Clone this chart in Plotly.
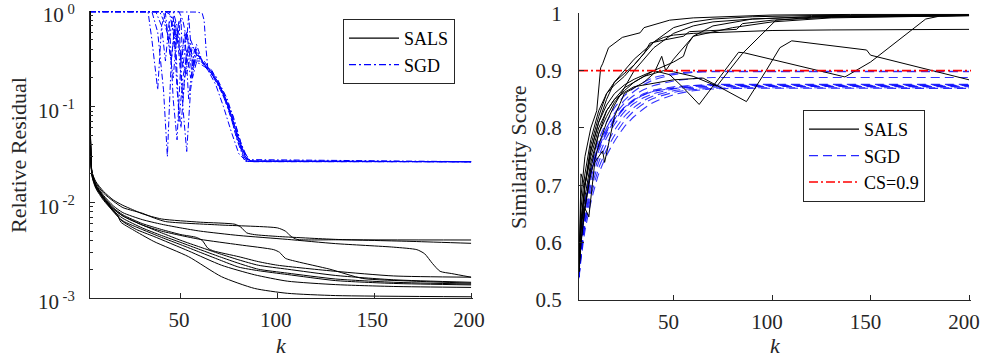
import plotly.graph_objects as go

# ---------------- Left panel: relative residual (log scale) ----------------
# SALS curves (k, value)
SALS_RES_K1 = [3, 4, 6, 10, 15, 20, 25, 30, 35, 42, 70, 100, 104, 107, 110, 130, 200]
SALS_RES_V1 = [1.0, 0.021, 0.016, 0.0125, 0.0103, 0.0088, 0.0082, 0.0077, 0.0070, 0.0063, 0.0058, 0.0054, 0.0050, 0.0044, 0.0041, 0.00406, 0.00404]
SALS_RES_K2 = [3, 4, 6, 10, 15, 20, 25, 30, 40, 60, 78, 81, 84, 88, 100, 130, 170, 200]
SALS_RES_V2 = [1.0, 0.021, 0.0165, 0.013, 0.0106, 0.0093, 0.0084, 0.0076, 0.0067, 0.0062, 0.0059, 0.0055, 0.0048, 0.0046, 0.0044, 0.0041, 0.0039, 0.00373]
SALS_RES_K3 = [3, 4, 6, 10, 15, 20, 30, 40, 50, 60, 80, 105, 130, 160, 172, 176, 180, 184, 190, 200]
SALS_RES_V3 = [1.0, 0.020, 0.0155, 0.0118, 0.0092, 0.0078, 0.0066, 0.0059, 0.0054, 0.0050, 0.0045, 0.0041, 0.0037, 0.0034, 0.0032, 0.0029, 0.0023, 0.0019, 0.0018, 0.00165]
SALS_RES_K4 = [3, 4, 6, 10, 15, 20, 30, 40, 50, 58, 61, 64, 67, 80, 90, 100, 130, 160, 200]
SALS_RES_V4 = [1.0, 0.020, 0.015, 0.0115, 0.0088, 0.0074, 0.0060, 0.0052, 0.0046, 0.0043, 0.0040, 0.0033, 0.0031, 0.0027, 0.0024, 0.0022, 0.0019, 0.0017, 0.00165]
SALS_RES_K5 = [3, 4, 6, 10, 15, 20, 30, 40, 50, 60, 80, 98, 101, 104, 110, 127, 144, 170, 200]
SALS_RES_V5 = [1.0, 0.020, 0.0145, 0.011, 0.0085, 0.0072, 0.0058, 0.0050, 0.0045, 0.0041, 0.0036, 0.0032, 0.0030, 0.0026, 0.0024, 0.0020, 0.0016, 0.0015, 0.00143]
SALS_RES_K6 = [3, 4, 6, 10, 15, 20, 30, 40, 50, 60, 70, 80, 90, 105, 130, 160, 200]
SALS_RES_V6 = [1.0, 0.020, 0.015, 0.0112, 0.0086, 0.0072, 0.0058, 0.0048, 0.0040, 0.0034, 0.0029, 0.0025, 0.0022, 0.0020, 0.00172, 0.00155, 0.00146]
SALS_RES_K7 = [3, 4, 6, 10, 15, 20, 30, 40, 50, 60, 70, 80, 90, 105, 130, 160, 200]
SALS_RES_V7 = [1.0, 0.019, 0.0145, 0.0108, 0.0082, 0.0068, 0.0054, 0.0045, 0.0038, 0.0032, 0.0027, 0.0023, 0.0020, 0.00182, 0.00158, 0.00146, 0.00140]
SALS_RES_K8 = [3, 4, 6, 10, 15, 20, 30, 40, 50, 60, 70, 80, 90, 105, 130, 160, 200]
SALS_RES_V8 = [1.0, 0.020, 0.0148, 0.0110, 0.0080, 0.0064, 0.0052, 0.0043, 0.0036, 0.0030, 0.0025, 0.0021, 0.00193, 0.00176, 0.00152, 0.00142, 0.00137]
SALS_RES_K9 = [3, 4, 6, 10, 15, 19, 27, 36, 54, 71, 88, 105, 130, 160, 200]
SALS_RES_V9 = [1.0, 0.020, 0.015, 0.0112, 0.0082, 0.0065, 0.0052, 0.0044, 0.0031, 0.0022, 0.00175, 0.0015, 0.00138, 0.00132, 0.00129]
SALS_RES_K10 = [3, 4, 6, 10, 14, 17, 19, 25, 36, 54, 71, 88, 105, 130, 200]
SALS_RES_V10 = [1.0, 0.019, 0.014, 0.0105, 0.0085, 0.0075, 0.0062, 0.0052, 0.0039, 0.0027, 0.00167, 0.00126, 0.00112, 0.00106, 0.00103]

# SGD curves (k, value)
SGD_RES_K1 = [3, 33, 35, 37, 38, 40, 42, 44, 46, 48, 50, 53, 56, 60, 66, 72, 77, 81, 85, 200]
SGD_RES_V1 = [0.985, 0.985, 0.5, 0.2, 0.15, 0.7, 0.95, 0.4, 0.2, 0.6, 0.3, 0.22, 0.42, 0.3, 0.24, 0.14, 0.08, 0.042, 0.027, 0.0266]
SGD_RES_K2 = [3, 35, 38, 41, 43, 45, 47, 49, 51, 53, 55, 58, 62, 68, 73, 78, 82, 86, 200]
SGD_RES_V2 = [0.985, 0.985, 0.6, 0.15, 0.03, 0.3, 0.8, 0.35, 0.12, 0.4, 0.2, 0.35, 0.3, 0.2, 0.12, 0.06, 0.035, 0.027, 0.0266]
SGD_RES_K3 = [3, 37, 40, 42, 44, 46, 48, 50, 53, 56, 60, 65, 70, 75, 79, 83, 200]
SGD_RES_V3 = [0.985, 0.985, 0.7, 0.3, 0.8, 0.12, 0.045, 0.3, 0.6, 0.3, 0.28, 0.24, 0.16, 0.09, 0.045, 0.0268, 0.0266]
SGD_RES_K4 = [3, 39, 41, 44, 46, 48, 50, 52, 55, 58, 62, 68, 74, 79, 83, 86, 200]
SGD_RES_V4 = [0.985, 0.985, 0.8, 0.5, 0.9, 0.15, 0.06, 0.2, 0.5, 0.35, 0.28, 0.21, 0.12, 0.055, 0.031, 0.0267, 0.0266]
SGD_RES_K5 = [3, 41, 43, 45, 47, 49, 51, 54, 57, 60, 66, 72, 77, 82, 86, 200]
SGD_RES_V5 = [0.985, 0.985, 0.6, 0.3, 0.7, 0.07, 0.2, 0.45, 0.3, 0.3, 0.22, 0.14, 0.07, 0.032, 0.027, 0.0266]
SGD_RES_K6 = [3, 42, 45, 47, 49, 51, 53, 55, 58, 62, 67, 72, 76, 80, 84, 200]
SGD_RES_V6 = [0.985, 0.985, 0.9, 0.4, 0.8, 0.1, 0.034, 0.15, 0.4, 0.27, 0.2, 0.13, 0.075, 0.04, 0.027, 0.0266]
SGD_RES_K7 = [3, 44, 46, 48, 50, 51, 53, 56, 59, 63, 69, 74, 79, 83, 87, 200]
SGD_RES_V7 = [0.985, 0.985, 0.6, 0.5, 0.85, 0.25, 0.6, 0.2, 0.35, 0.26, 0.18, 0.11, 0.05, 0.029, 0.0266, 0.0266]
SGD_RES_K8 = [3, 46, 48, 50, 52, 54, 57, 60, 65, 70, 75, 80, 84, 200]
SGD_RES_V8 = [0.985, 0.985, 0.7, 0.3, 0.6, 0.12, 0.4, 0.32, 0.24, 0.17, 0.095, 0.045, 0.028, 0.0266]
SGD_RES_K9 = [3, 49, 51, 53, 54, 56, 58, 61, 66, 71, 76, 80, 85, 200]
SGD_RES_V9 = [0.985, 0.985, 0.8, 0.5, 0.9, 0.25, 0.45, 0.3, 0.22, 0.15, 0.085, 0.042, 0.027, 0.0266]
SGD_RES_K10 = [3, 54, 58, 61, 62, 63, 64, 68, 72, 76, 80, 84, 200]
SGD_RES_V10 = [0.985, 0.985, 0.975, 0.95, 0.8, 0.4, 0.24, 0.17, 0.1, 0.055, 0.032, 0.0267, 0.0266]

# ---------------- Right panel: similarity score ----------------
SALS_SIM_K1 = [2, 3, 5, 8, 11, 13, 14, 17, 24, 33, 35, 48, 60, 80, 100, 140, 200]
SALS_SIM_V1 = [0.55, 0.68, 0.75, 0.80, 0.83, 0.905, 0.912, 0.94, 0.958, 0.966, 0.975, 0.988, 0.992, 0.995, 0.997, 0.998, 0.998]
SALS_SIM_K2 = [2, 3, 5, 8, 12, 16, 20, 25, 30, 35, 40, 48, 55, 63, 83, 86, 137, 150, 165, 178, 185, 200]
SALS_SIM_V2 = [0.55, 0.62, 0.70, 0.76, 0.81, 0.84, 0.86, 0.875, 0.885, 0.893, 0.90, 0.893, 0.87, 0.841, 0.932, 0.931, 0.889, 0.915, 0.955, 0.99, 0.995, 0.997]
SALS_SIM_K3 = [2, 3, 5, 8, 12, 16, 20, 25, 30, 40, 50, 65, 87, 97, 104, 110, 148, 150, 200]
SALS_SIM_V3 = [0.55, 0.64, 0.70, 0.75, 0.80, 0.83, 0.85, 0.862, 0.872, 0.878, 0.884, 0.887, 0.846, 0.90, 0.94, 0.952, 0.936, 0.927, 0.884]
SALS_SIM_K4 = [2, 3, 5, 8, 12, 16, 20, 25, 30, 35, 40, 45, 50, 60, 72, 85, 102, 120, 160, 200]
SALS_SIM_V4 = [0.55, 0.62, 0.68, 0.74, 0.79, 0.82, 0.845, 0.865, 0.88, 0.89, 0.895, 0.90, 0.898, 0.89, 0.873, 0.93, 0.988, 0.993, 0.996, 0.997]
SALS_SIM_K5 = [2, 3, 5, 8, 12, 16, 20, 25, 30, 35, 40, 45, 50, 60, 80, 100, 130, 200]
SALS_SIM_V5 = [0.55, 0.63, 0.70, 0.76, 0.81, 0.85, 0.88, 0.90, 0.92, 0.935, 0.95, 0.958, 0.962, 0.965, 0.968, 0.970, 0.971, 0.972]
SALS_SIM_K6 = [2, 3, 5, 8, 12, 16, 20, 25, 30, 35, 38, 46, 55, 58, 82, 85, 100, 130, 200]
SALS_SIM_V6 = [0.55, 0.66, 0.72, 0.78, 0.83, 0.86, 0.88, 0.895, 0.91, 0.93, 0.948, 0.954, 0.96, 0.968, 0.972, 0.982, 0.988, 0.993, 0.996]
SALS_SIM_K7 = [2, 3, 5, 8, 12, 16, 20, 25, 30, 40, 50, 55, 57, 60, 80, 100, 130, 200]
SALS_SIM_V7 = [0.55, 0.60, 0.66, 0.73, 0.79, 0.83, 0.85, 0.87, 0.88, 0.90, 0.915, 0.925, 0.945, 0.96, 0.975, 0.985, 0.992, 0.996]
SALS_SIM_K8 = [2, 3, 5, 8, 12, 16, 20, 25, 30, 40, 50, 60, 70, 90, 120, 200]
SALS_SIM_V8 = [0.55, 0.60, 0.66, 0.72, 0.77, 0.81, 0.84, 0.87, 0.90, 0.94, 0.965, 0.978, 0.985, 0.99, 0.994, 0.996]
SALS_SIM_K9 = [2, 3, 5, 8, 12, 16, 20, 25, 30, 40, 50, 60, 70, 90, 120, 200]
SALS_SIM_V9 = [0.55, 0.72, 0.70, 0.77, 0.82, 0.86, 0.875, 0.89, 0.91, 0.95, 0.975, 0.985, 0.99, 0.994, 0.996, 0.997]
SALS_SIM_K10 = [2, 3, 5, 7, 10, 14, 15, 20, 25, 30, 35, 40, 44, 46, 50, 60, 70, 90, 120, 200]
SALS_SIM_V10 = [0.55, 0.64, 0.66, 0.645, 0.74, 0.76, 0.74, 0.82, 0.86, 0.87, 0.88, 0.895, 0.925, 0.90, 0.92, 0.96, 0.978, 0.99, 0.994, 0.996]

SGD_SIM_K = [2, 3, 5, 8, 12, 16, 20, 25, 30, 35, 40, 50, 60, 70, 80, 200]
SGD_SIM_V1 = [0.545, 0.60, 0.67, 0.73, 0.78, 0.81, 0.835, 0.856, 0.870, 0.880, 0.888, 0.895, 0.898, 0.899, 0.899, 0.899]
SGD_SIM_V2 = [0.54, 0.59, 0.66, 0.72, 0.77, 0.80, 0.825, 0.848, 0.864, 0.876, 0.884, 0.893, 0.897, 0.898, 0.898, 0.898]
SGD_SIM_V3 = [0.55, 0.60, 0.665, 0.725, 0.772, 0.80, 0.822, 0.843, 0.857, 0.867, 0.874, 0.882, 0.886, 0.888, 0.888, 0.888]
SGD_SIM_V4 = [0.54, 0.585, 0.65, 0.71, 0.76, 0.79, 0.812, 0.834, 0.848, 0.858, 0.864, 0.870, 0.874, 0.876, 0.876, 0.876]
SGD_SIM_V5 = [0.545, 0.595, 0.66, 0.72, 0.765, 0.793, 0.815, 0.836, 0.85, 0.86, 0.866, 0.872, 0.874, 0.875, 0.875, 0.875]
SGD_SIM_V6 = [0.54, 0.58, 0.64, 0.70, 0.75, 0.783, 0.806, 0.828, 0.843, 0.853, 0.86, 0.868, 0.872, 0.874, 0.874, 0.874]
SGD_SIM_V7 = [0.55, 0.60, 0.665, 0.722, 0.766, 0.795, 0.816, 0.836, 0.849, 0.858, 0.864, 0.869, 0.871, 0.873, 0.873, 0.873]
SGD_SIM_V8 = [0.54, 0.58, 0.635, 0.69, 0.74, 0.772, 0.796, 0.82, 0.836, 0.848, 0.856, 0.865, 0.869, 0.871, 0.872, 0.872]
SGD_SIM_V9 = [0.54, 0.575, 0.63, 0.68, 0.73, 0.762, 0.787, 0.812, 0.83, 0.843, 0.852, 0.862, 0.867, 0.869, 0.870, 0.870]
SGD_SIM_V10 = [0.538, 0.57, 0.62, 0.67, 0.72, 0.752, 0.777, 0.802, 0.82, 0.834, 0.845, 0.858, 0.865, 0.868, 0.869, 0.869]

CS_THRESHOLD = 0.9
X_TICKS = [50, 100, 150, 200]
X_TICKTEXT = ["50", "100", "150", "200"]
RES_TICKS = [1e-3, 1e-2, 1e-1, 1]
RES_TICKTEXT = ["10<sup> -3</sup>", "10<sup> -2</sup>", "10<sup> -1</sup>", "10<sup> 0</sup>"]
SIM_TICKS = [0.5, 0.6, 0.7, 0.8, 0.9, 1.0]
SIM_TICKTEXT = ["0.5", "0.6", "0.7", "0.8", "0.9", "1"]

sals_res = [(SALS_RES_K1, SALS_RES_V1), (SALS_RES_K2, SALS_RES_V2), (SALS_RES_K3, SALS_RES_V3),
            (SALS_RES_K4, SALS_RES_V4), (SALS_RES_K5, SALS_RES_V5), (SALS_RES_K6, SALS_RES_V6),
            (SALS_RES_K7, SALS_RES_V7), (SALS_RES_K8, SALS_RES_V8), (SALS_RES_K9, SALS_RES_V9),
            (SALS_RES_K10, SALS_RES_V10)]
sgd_res = [(SGD_RES_K1, SGD_RES_V1), (SGD_RES_K2, SGD_RES_V2), (SGD_RES_K3, SGD_RES_V3),
           (SGD_RES_K4, SGD_RES_V4), (SGD_RES_K5, SGD_RES_V5), (SGD_RES_K6, SGD_RES_V6),
           (SGD_RES_K7, SGD_RES_V7), (SGD_RES_K8, SGD_RES_V8), (SGD_RES_K9, SGD_RES_V9),
           (SGD_RES_K10, SGD_RES_V10)]
sals_sim = [(SALS_SIM_K1, SALS_SIM_V1), (SALS_SIM_K2, SALS_SIM_V2), (SALS_SIM_K3, SALS_SIM_V3),
            (SALS_SIM_K4, SALS_SIM_V4), (SALS_SIM_K5, SALS_SIM_V5), (SALS_SIM_K6, SALS_SIM_V6),
            (SALS_SIM_K7, SALS_SIM_V7), (SALS_SIM_K8, SALS_SIM_V8), (SALS_SIM_K9, SALS_SIM_V9),
            (SALS_SIM_K10, SALS_SIM_V10)]
sgd_sim = [SGD_SIM_V1, SGD_SIM_V2, SGD_SIM_V3, SGD_SIM_V4, SGD_SIM_V5,
           SGD_SIM_V6, SGD_SIM_V7, SGD_SIM_V8, SGD_SIM_V9, SGD_SIM_V10]

FONT = "Liberation Serif, Times New Roman, Times, serif"
AX_COLOR = "#262626"
W, H = 984, 358

BLACK_LINE = dict(color="black", width=1)
SGD_L_LINE = dict(color="rgb(0,0,255)", width=1, dash="6px,2.5px,1.5px,2.5px")
SGD_R_LINE = dict(color="rgba(0,0,255,0.8)", width=1.1, dash="9px,5px")
CS_LINE = dict(color="rgb(255,0,0)", width=1.6, dash="9px,3px,2px,3px")

fig = go.Figure()

# Left panel
for k, v in sgd_res:
    fig.add_trace(go.Scatter(x=k, y=v, mode="lines", xaxis="x", yaxis="y",
                             line=SGD_L_LINE, showlegend=False, hoverinfo="skip"))
for k, v in sals_res:
    fig.add_trace(go.Scatter(x=k, y=v, mode="lines", xaxis="x", yaxis="y",
                             line=dict(BLACK_LINE, shape="spline", smoothing=0.6),
                             showlegend=False, hoverinfo="skip"))

# Right panel
for v in sgd_sim:
    fig.add_trace(go.Scatter(x=SGD_SIM_K, y=v, mode="lines", xaxis="x2", yaxis="y2",
                             line=dict(SGD_R_LINE, shape="spline", smoothing=0.6),
                             showlegend=False, hoverinfo="skip"))
for k, v in sals_sim:
    fig.add_trace(go.Scatter(x=k, y=v, mode="lines", xaxis="x2", yaxis="y2",
                             line=BLACK_LINE, showlegend=False, hoverinfo="skip"))
fig.add_trace(go.Scatter(x=[2, 201], y=[CS_THRESHOLD, CS_THRESHOLD], mode="lines",
                         xaxis="x2", yaxis="y2", line=CS_LINE, showlegend=False))

# legend entries
fig.add_trace(go.Scatter(x=[None], y=[None], mode="lines", xaxis="x", yaxis="y",
                         line=dict(color="black", width=1.2), name="SALS", legend="legend"))
fig.add_trace(go.Scatter(x=[None], y=[None], mode="lines", xaxis="x", yaxis="y",
                         line=dict(color="rgb(0,0,255)", width=1.3, dash="7px,3px,2px,3px"),
                         name="SGD", legend="legend"))
fig.add_trace(go.Scatter(x=[None], y=[None], mode="lines", xaxis="x2", yaxis="y2",
                         line=dict(color="black", width=1.2), name="SALS", legend="legend2"))
fig.add_trace(go.Scatter(x=[None], y=[None], mode="lines", xaxis="x2", yaxis="y2",
                         line=dict(color="rgb(40,40,255)", width=1.3, dash="9px,5px"),
                         name="SGD", legend="legend2"))
fig.add_trace(go.Scatter(x=[None], y=[None], mode="lines", xaxis="x2", yaxis="y2",
                         line=CS_LINE, name="CS=0.9", legend="legend2"))

axis_common = dict(showline=True, linecolor=AX_COLOR, linewidth=1, mirror=False,
                   ticks="inside", ticklen=5, tickcolor=AX_COLOR, tickwidth=1,
                   showgrid=False, zeroline=False, automargin=False,
                   ticklabeloverflow="allow",
                   tickfont=dict(family=FONT, size=21, color=AX_COLOR))

minor_vals = [m * 10 ** e for e in (-3, -2, -1) for m in range(2, 10)]

fig.update_layout(
    width=W, height=H,
    margin=dict(l=0, r=0, t=0, b=0, autoexpand=False),
    paper_bgcolor="white", plot_bgcolor="white",
    font=dict(family=FONT, color=AX_COLOR),
    xaxis=dict(domain=[90 / W, 473 / W], range=[3, 201], tickvals=X_TICKS,
               ticktext=X_TICKTEXT, ticklabelstandoff=3, ticklabelshift=-2,
               anchor="y", **axis_common),
    yaxis=dict(domain=[1 - 298 / H, 1 - 11 / H], type="log", range=[-3, 0],
               tickvals=RES_TICKS, ticktext=RES_TICKTEXT, ticklabelstandoff=10,
               ticklabelshift=4, anchor="x",
               minor=dict(ticks="inside", ticklen=3, tickcolor=AX_COLOR, tickvals=minor_vals),
               **axis_common),
    xaxis2=dict(domain=[579 / W, 971 / W], range=[2, 201], tickvals=X_TICKS,
                ticktext=X_TICKTEXT, ticklabelstandoff=3, ticklabelshift=-5,
                anchor="y2", **axis_common),
    yaxis2=dict(domain=[1 - 300 / H, 1 - 13.3 / H], range=[0.5, 1.0],
                tickvals=SIM_TICKS, ticktext=SIM_TICKTEXT, ticklabelstandoff=12, anchor="x2",
                **axis_common),
    legend=dict(x=343 / W, y=1 - 19 / H, xanchor="left", yanchor="top",
                bgcolor="white", bordercolor=AX_COLOR, borderwidth=1, itemwidth=50,
                font=dict(family=FONT, size=18, color="black"), tracegroupgap=0),
    legend2=dict(x=803 / W, y=1 - 110 / H, xanchor="left", yanchor="top",
                 bgcolor="white", bordercolor=AX_COLOR, borderwidth=1, itemwidth=50,
                 font=dict(family=FONT, size=18, color="black"), tracegroupgap=0),
    annotations=[
        dict(text="Relative Residual", x=18 / W, y=1 - 155 / H, xref="paper", yref="paper",
             textangle=-90, showarrow=False, xanchor="center", yanchor="middle",
             font=dict(family=FONT, size=22, color=AX_COLOR)),
        dict(text="Similarity Score", x=518 / W, y=1 - 157 / H, xref="paper", yref="paper",
             textangle=-90, showarrow=False, xanchor="center", yanchor="middle",
             font=dict(family=FONT, size=22, color=AX_COLOR)),
        dict(text="<i>k</i>", x=281 / W, y=1 - 345 / H, xref="paper", yref="paper",
             showarrow=False, xanchor="center", yanchor="middle",
             font=dict(family=FONT, size=22, color=AX_COLOR)),
        dict(text="<i>k</i>", x=775 / W, y=1 - 345 / H, xref="paper", yref="paper",
             showarrow=False, xanchor="center", yanchor="middle",
             font=dict(family=FONT, size=22, color=AX_COLOR)),
    ],
)

fig.write_html("out.html")
